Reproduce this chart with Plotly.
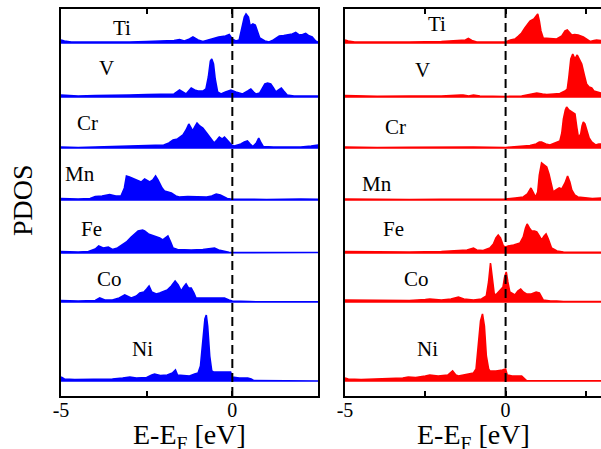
import plotly.graph_objects as go

W, H = 601, 449
elements = ["Ti", "V", "Cr", "Mn", "Fe", "Co", "Ni"]
offsets = [338, 284, 233, 181, 128, 79, 0]

x_tick_vals = [-5, 0]
x_tick_text = ["-5", "0"]
x_minor_vals = [-5, -2.5, 0, 2.5]

# ---- spin-up (left, blue) PDOS: energies (eV) and values (arb. units) ----
ti_up_e = [-5.0,-4.9,-4.7,-4.0,-3.0,-2.5,-2.0,-1.7,-1.54,-1.4,-1.25,-1.15,-1.0,-0.86,-0.6,-0.4,-0.2,-0.09,0.0,0.1,0.2,0.28,0.35,0.4,0.47,0.52,0.6,0.67,0.73,0.8,0.95,1.07,1.2,1.37,1.5,1.65,1.75,1.85,1.95,2.05,2.14,2.22,2.33,2.43,2.5]
ti_up_v = [3,2,1,0.8,1,1.5,2,2.5,3.5,2,4,6,3,1.5,4,6,7,8.5,4,2,3,15,26,29,26,17,19,18,11,5,2,1,3,7,7.5,8.5,9,10.5,8,8.5,9.5,7.5,6,2,1]
v_up_e = [-5.0,-4.5,-4.0,-3.5,-3.0,-2.5,-2.0,-1.7,-1.54,-1.45,-1.35,-1.2,-1.1,-1.0,-0.85,-0.77,-0.7,-0.64,-0.6,-0.55,-0.5,-0.43,-0.33,-0.2,-0.04,0.1,0.3,0.45,0.54,0.62,0.69,0.8,0.95,1.03,1.12,1.2,1.27,1.35,1.43,1.5,1.6,1.8,2.5]
v_up_v = [2,1,1.5,1.5,2,2.5,3,3,7,5,3,9,7,6,6,8,20,36,38,33,18,5,3,5,7,5,3,6,8,5,3,4,13,14,13,9,5,7,9,6,2,1,1]
cr_up_e = [-5.0,-4.5,-4.0,-3.5,-3.0,-2.5,-2.0,-1.85,-1.73,-1.6,-1.44,-1.35,-1.27,-1.2,-1.16,-1.08,-1.03,-0.95,-0.86,-0.75,-0.67,-0.58,-0.53,-0.45,-0.38,-0.3,-0.23,-0.15,-0.09,-0.02,0.06,0.15,0.25,0.35,0.44,0.52,0.6,0.7,0.77,0.84,0.9,1.2,2.0,2.3,2.5]
cr_up_v = [1,0.5,1,1.5,2,2.5,3,5,8,9,13,18,24,20,17,22,25,22,20,15,11,7,5,8,11,9,11,8,6,3,2,3,4,6,7,4,1.5,5,10,5,1.5,1,1,2,3]
mn_up_e = [-5.0,-4.5,-4.15,-4.0,-3.8,-3.58,-3.4,-3.25,-3.15,-3.09,-3.0,-2.85,-2.75,-2.66,-2.56,-2.5,-2.41,-2.32,-2.24,-2.17,-2.12,-2.05,-1.98,-1.85,-1.78,-1.65,-1.55,-1.3,-1.0,-0.75,-0.6,-0.47,-0.35,-0.25,-0.15,0.0,1.0,2.0,2.5]
mn_up_v = [1.5,1,1.5,3.5,4,5.5,4,4,12,24,23,21,19,18,21,20,18,20,24,20,16,12,9,8,7,4,3,3.5,3,3,4,6,5,3,1.5,0.8,0.5,1,0.8]
fe_up_e = [-5.0,-4.5,-4.2,-4.0,-3.9,-3.77,-3.62,-3.5,-3.35,-3.2,-3.09,-2.95,-2.85,-2.75,-2.62,-2.56,-2.45,-2.36,-2.25,-2.12,-2.03,-1.95,-1.88,-1.8,-1.73,-1.6,-1.44,-1.2,-0.86,-0.65,-0.52,-0.4,-0.28,-0.1,0.5,2.5]
fe_up_v = [1.5,1,1.5,4,7,5,6,3.5,5,8,11,16,19,22,23,22,19,18,16,15,13,15,17,11,5,3.5,3,3,3.5,4,5,3,2,0.8,0.5,0.5]
co_up_e = [-5.0,-4.5,-4.0,-3.87,-3.72,-3.5,-3.3,-3.14,-2.95,-2.8,-2.7,-2.58,-2.5,-2.43,-2.35,-2.22,-2.12,-2.03,-1.9,-1.78,-1.67,-1.58,-1.49,-1.42,-1.35,-1.28,-1.2,-1.12,-1.06,-0.85,-0.67,-0.45,-0.23,-0.1,0.0,0.5,0.7,2.5]
co_up_v = [1.5,1,1.5,4,2,2,4,7,4,6,9,10,13,16,10,8,9,10,12,16,21,17,11,15,18,14,14,9,4,4,4,4,4,2,1,0.5,0.2,0.3]
ni_up_e = [-5.0,-4.9,-4.6,-4.0,-3.5,-3.2,-2.99,-2.8,-2.5,-2.35,-2.27,-2.1,-1.9,-1.75,-1.66,-1.6,-1.4,-1.25,-1.1,-1.0,-0.93,-0.86,-0.8,-0.76,-0.72,-0.66,-0.6,-0.55,-0.3,-0.05,0.0,0.2,0.45,0.55,0.62,2.5]
ni_up_v = [4,2,1.5,1.5,2,3,4,3,3.5,6,7,5.5,6,8,11,6,5,5,7,8,15,40,62,66,55,25,10,9,9,9,4,3,3,2,0.5,0.3]

# ---- spin-down (right, red) PDOS ----
ti_dn_e = [-5.0,-4.9,-4.7,-4.0,-3.0,-2.0,-1.7,-1.53,-1.4,-1.25,-1.16,-1.05,-0.9,0.0,0.15,0.29,0.4,0.5,0.6,0.7,0.76,0.88,0.95,1.0,1.05,1.1,1.17,1.3,1.45,1.59,1.75,1.85,1.92,2.0,2.06,2.15,2.26,2.42,2.55,2.63,2.75,2.83,2.97]
ti_dn_v = [3,2,1,0.8,1,1.5,2,3,2.5,3,4.5,2.5,1,1,3,4,7,10,15,20,22,24,27,29,22,12,5,4.5,4,4,7,12,13,10,8,8.5,8,6,3,1.5,2.5,3,2.5]
v_dn_e = [-5.0,-4.0,-3.0,-2.0,-1.4,-1.32,-1.15,-1.0,-0.8,0.0,0.5,0.8,0.97,1.15,1.28,1.5,1.69,1.85,1.92,1.97,2.03,2.09,2.16,2.23,2.3,2.37,2.45,2.52,2.6,2.68,2.75,2.83,2.97]
v_dn_v = [1.5,0.8,1,1,2,2,1,2,1,0.5,1,3,4,3,2.5,3,3.5,6,8,20,38,43,38,42,37,33,22,13,10,9,6,5,4]
cr_dn_e = [-5.0,-4.0,-3.0,-2.0,-1.0,0.0,0.5,0.76,0.95,1.05,1.12,1.25,1.38,1.55,1.69,1.75,1.8,1.86,1.9,1.97,2.06,2.12,2.16,2.22,2.26,2.3,2.34,2.38,2.42,2.47,2.54,2.6,2.68,2.8,2.9,2.97]
cr_dn_v = [1,0.5,0.8,1,1,0.5,1.5,2.5,4,6,6,4,3,5,7,15,29,38,41,38,36,35,34,20,12,12,14,22,26,24,15,10,6,3,4,4]
mn_dn_e = [-5.0,-4.0,-3.0,-2.0,-1.0,-0.2,0.0,0.3,0.55,0.68,0.79,0.87,0.93,1.0,1.05,1.12,1.2,1.28,1.35,1.42,1.48,1.57,1.67,1.75,1.85,1.93,2.0,2.06,2.15,2.25,2.5,2.7,2.97]
mn_dn_v = [1,0.5,0.5,0.8,1,1,1,2,3,6,12,7,3,8,25,37,35,33,26,15,8,10,12,11,17,24,18,10,5,3,2,1.5,2]
fe_dn_e = [-5.0,-4.0,-3.0,-2.0,-1.53,-1.2,-1.0,-0.9,-0.7,-0.49,-0.38,-0.3,-0.23,-0.16,-0.07,0.0,0.08,0.25,0.45,0.55,0.62,0.67,0.74,0.81,0.9,0.97,1.05,1.12,1.2,1.26,1.33,1.43,1.6,1.8,2.97]
fe_dn_v = [1.5,1,1,1.5,2,3,5,3,2.5,5,9,15,18,15,7,6,7,8,10,16,25,29,25,22,22,21,17,13,17,19,14,5,2,1,0.8]
co_dn_e = [-5.0,-4.0,-3.0,-2.5,-2.36,-2.0,-1.7,-1.47,-1.3,-1.0,-0.75,-0.6,-0.53,-0.47,-0.41,-0.35,-0.28,-0.18,-0.08,-0.03,0.02,0.07,0.13,0.29,0.38,0.47,0.55,0.65,0.8,0.95,1.05,1.17,1.4,1.59,1.8,2.97]
co_dn_v = [2,1.5,1.5,2.5,3,2,3,5,3,2,3,6,20,39,25,7,8,12,15,25,30,20,10,7,11,13,10,8,8,10,9,2,1,1,0.5,0.5]
ni_dn_e = [-5.0,-4.9,-4.5,-4.0,-3.5,-3.2,-3.03,-2.8,-2.5,-2.36,-2.1,-1.8,-1.65,-1.55,-1.47,-1.3,-1.11,-1.0,-0.92,-0.85,-0.78,-0.72,-0.66,-0.6,-0.53,-0.49,-0.3,-0.1,0.0,0.05,0.2,0.4,0.5,0.6,0.65,2.97]
ni_dn_v = [3,2,1.5,2,2,3,4,3.5,5,6,5,6,10,6,5,6,7,8,12,35,60,67,55,25,12,10,10,11,12,6,5,5,5,2,0.5,0.3]

up_series = [(ti_up_e, ti_up_v), (v_up_e, v_up_v), (cr_up_e, cr_up_v), (mn_up_e, mn_up_v),
             (fe_up_e, fe_up_v), (co_up_e, co_up_v), (ni_up_e, ni_up_v)]
dn_series = [(ti_dn_e, ti_dn_v), (v_dn_e, v_dn_v), (cr_dn_e, cr_dn_v), (mn_dn_e, mn_dn_v),
             (fe_dn_e, fe_dn_v), (co_dn_e, co_dn_v), (ni_dn_e, ni_dn_v)]

# label positions in pixels (centre)
up_label_px = [(122, 28), (106, 68), (87, 123), (80, 174), (91, 229), (109, 279), (142, 349)]
dn_label_px = [(437, 24), (422, 70), (395, 127), (377, 184), (393, 229), (416, 279), (427, 349)]

FONT = "Liberation Serif"
BLUE = "#0000ff"
RED = "#ff0000"

fig = go.Figure()

def add_series(series, color, xa, ya):
    for (e, v), off in zip(series, offsets):
        xs = list(e) + [e[-1], e[0]]
        ys = [off + val for val in v] + [off, off]
        fig.add_trace(go.Scatter(x=xs, y=ys, mode="lines", fill="toself",
                                 fillcolor=color, line=dict(color=color, width=1.6),
                                 xaxis=xa, yaxis=ya, showlegend=False, hoverinfo="skip"))

add_series(up_series, BLUE, "x", "y")
add_series(dn_series, RED, "x2", "y2")

ydom = [1 - 396 / H, 1 - 9 / H]
yrange = [-15, 372]

xcommon = dict(tickmode="array", tickvals=x_tick_vals, ticktext=x_tick_text, ticks="inside",
               ticklen=5, tickwidth=1.5, tickcolor="black", showline=True, linecolor="black",
               linewidth=2, mirror="ticks", showgrid=False, zeroline=False, ticklabelstandoff=-5,
               automargin=False, tickfont=dict(family=FONT, size=20, color="black"),
               minor=dict(tickmode="array", tickvals=x_minor_vals, ticks="inside", ticklen=5,
                          tickwidth=1.5, tickcolor="black", showgrid=False))
ycommon = dict(range=yrange, domain=ydom, showticklabels=False, ticks="", showgrid=False,
               zeroline=False, showline=True, linecolor="black", linewidth=2, automargin=False)

fig.update_layout(
    template="none",
    width=W, height=H, margin=dict(l=0, r=0, t=0, b=0, pad=0, autoexpand=False),
    paper_bgcolor="white", plot_bgcolor="white", showlegend=False,
    xaxis=dict(domain=[61 / W, 318 / W], range=[-5, 2.5], anchor="y", **xcommon),
    xaxis2=dict(domain=[345 / W, 1.0], range=[-5, 2.97], anchor="y2", **xcommon),
    yaxis=dict(mirror=True, anchor="x", **ycommon),
    yaxis2=dict(mirror=False, anchor="x2", **ycommon),
)

for xr, yr in [("x", "y"), ("x2", "y2")]:
    fig.add_shape(type="line", xref=xr, yref=yr + " domain", x0=0, x1=0, y0=0, y1=1,
                  line=dict(color="black", width=2, dash="9px,5px"))

ann = []
for name, (px, py) in zip(elements, up_label_px):
    ann.append(dict(x=px / W, y=1 - py / H, xref="paper", yref="paper", text=name, showarrow=False,
                    xanchor="center", yanchor="middle", font=dict(family=FONT, size=21, color="black")))
for name, (px, py) in zip(elements, dn_label_px):
    ann.append(dict(x=px / W, y=1 - py / H, xref="paper", yref="paper", text=name, showarrow=False,
                    xanchor="center", yanchor="middle", font=dict(family=FONT, size=21, color="black")))
ann.append(dict(x=22 / W, y=1 - 200 / H, xref="paper", yref="paper", text="PDOS", textangle=-90,
                showarrow=False, xanchor="center", yanchor="middle",
                font=dict(family=FONT, size=28, color="black")))
for cx in [189.5 / W, 473 / W]:
    ann.append(dict(x=cx, y=1 - 436 / H, xref="paper", yref="paper", text="E-E<sub>F</sub> [eV]",
                    showarrow=False, xanchor="center", yanchor="middle",
                    font=dict(family=FONT, size=28, color="black")))
fig.update_layout(annotations=ann)

fig.write_html("out.html", config={"displayModeBar": False},
               post_script="document.body.style.margin='0px';document.body.style.overflow='hidden';")
